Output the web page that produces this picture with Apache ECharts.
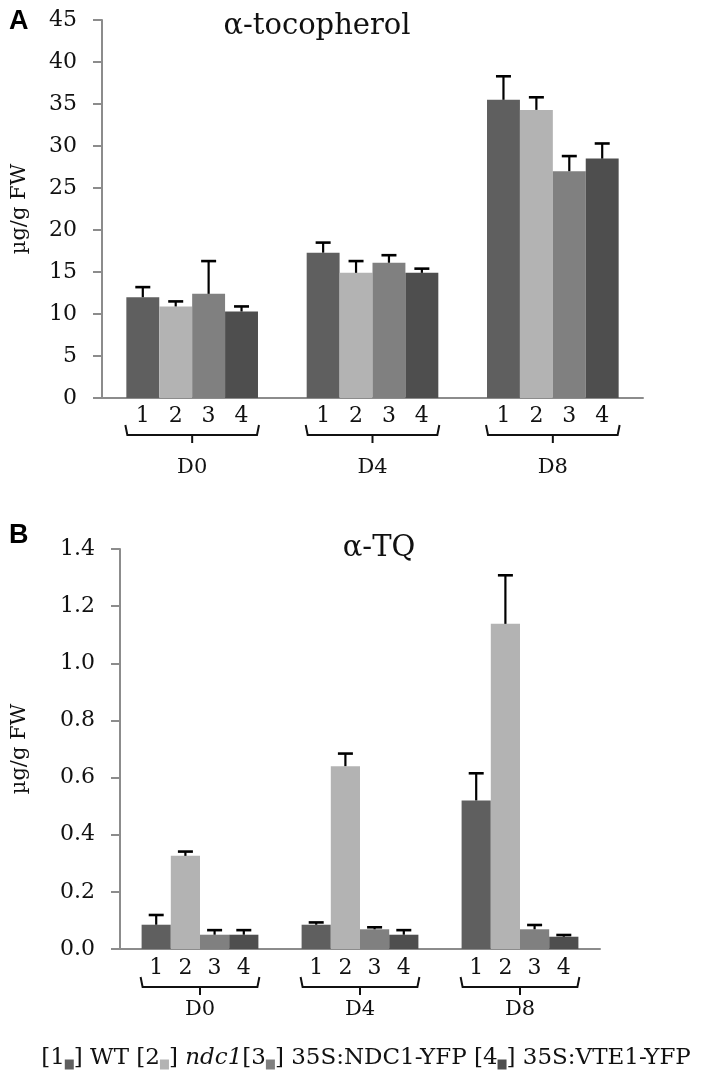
<!DOCTYPE html>
<html>
<head>
<meta charset="utf-8">
<script src="https://cdn.jsdelivr.net/npm/echarts@6/dist/echarts.min.js"></script>
<style>
html,body{margin:0;padding:0;background:#fff;}
#chart{width:709px;height:1083px;}
</style>
</head>
<body>
<div id="chart"></div>
<script>
// ---- data ----
const groups = ['D0', 'D4', 'D8'];
const lineNums = ['1', '2', '3', '4'];
const lineNames = ['WT', 'ndc1', '35S:NDC1-YFP', '35S:VTE1-YFP'];
const barColors = ['#5f5f5f', '#b3b3b3', '#808080', '#4e4e4e'];

const tocoTitle = 'α-tocopherol';
const tqTitle = 'α-TQ';
const yName = 'µg/g FW';

// alpha-tocopherol means per line (D0, D4, D8)
const tocoWT   = [12.0, 17.3, 35.5];
const tocoNdc1 = [10.9, 14.9, 34.3];
const tocoNDC1 = [12.4, 16.1, 27.0];
const tocoVTE1 = [10.3, 14.9, 28.5];
// error (SD) per line
const tocoWTErr   = [1.2, 1.2, 2.8];
const tocoNdc1Err = [0.6, 1.4, 1.5];
const tocoNDC1Err = [3.9, 0.9, 1.8];
const tocoVTE1Err = [0.6, 0.5, 1.8];

// alpha-TQ means per line
const tqWT   = [0.085, 0.085, 0.52];
const tqNdc1 = [0.326, 0.64, 1.138];
const tqNDC1 = [0.05, 0.069, 0.069];
const tqVTE1 = [0.05, 0.05, 0.043];
const tqWTErr   = [0.034, 0.008, 0.095];
const tqNdc1Err = [0.015, 0.044, 0.17];
const tqNDC1Err = [0.016, 0.007, 0.015];
const tqVTE1Err = [0.016, 0.016, 0.006];

const tocoTicks = {min: 0, max: 45, interval: 5};
const tqTicks = {min: 0, max: 1.4, interval: 0.2};

// ---- build ----
const SERIF = '"DejaVu Serif", "Liberation Serif", serif';
const GAP = 0.27;
const tocoMeans = [tocoWT, tocoNdc1, tocoNDC1, tocoVTE1];
const tocoErrs = [tocoWTErr, tocoNdc1Err, tocoNDC1Err, tocoVTE1Err];
const tqMeans = [tqWT, tqNdc1, tqNDC1, tqVTE1];
const tqErrs = [tqWTErr, tqNdc1Err, tqNDC1Err, tqVTE1Err];

const chart = echarts.init(document.getElementById('chart'), null, {renderer: 'canvas'});

function barSeries(means, gi) {
  return means.map((m, i) => ({
    type: 'bar', name: lineNames[i], xAxisIndex: gi, yAxisIndex: gi,
    data: m, barGap: '0%', barCategoryGap: (GAP * 100) + '%',
    itemStyle: {color: barColors[i]}, silent: true, z: 2
  }));
}

function errSeries(means, errs, gi) {
  const data = [];
  means.forEach((m, li) => m.forEach((v, ci) => data.push([ci, v, errs[li][ci], li])));
  return {
    type: 'custom', xAxisIndex: gi, yAxisIndex: gi, data: data, z: 5, silent: true,
    encode: {x: 0, y: 1},
    renderItem: function (params, api) {
      const ci = api.value(0), v = api.value(1), e = api.value(2), li = api.value(3);
      const c = api.coord([ci, v]);
      const cw = api.size([1, 0])[0];
      const bw = cw * (1 - GAP) / 4;
      const x = c[0] - 2 * bw + (li + 0.5) * bw;
      const yTop = api.coord([ci, v + e])[1];
      const half = 7.5;
      return {
        type: 'group', children: [
          {type: 'line', shape: {x1: x, y1: c[1], x2: x, y2: yTop}, style: {stroke: '#000', lineWidth: 2.2}},
          {type: 'line', shape: {x1: x - half, y1: yTop, x2: x + half, y2: yTop}, style: {stroke: '#000', lineWidth: 2.6}}
        ]
      };
    }
  };
}

function annotSeries(gi, subDy, dDy) {
  return {
    type: 'custom', xAxisIndex: gi, yAxisIndex: gi, data: groups.map((g, i) => [i, 0]), z: 5, silent: true,
    clip: false,
    renderItem: function (params, api) {
      const ci = api.value(0);
      const c = api.coord([ci, 0]);
      const cw = api.size([1, 0])[0];
      const bw = cw * (1 - GAP) / 4;
      const left = c[0] - 2 * bw - 1, right = c[0] + 2 * bw + 1;
      const y0 = c[1];
      const children = lineNums.map((n, li) => ({
        type: 'text',
        style: {text: n, x: c[0] - 2 * bw + (li + 0.5) * bw, y: y0 + subDy, align: 'center', verticalAlign: 'middle',
          font: '22px ' + SERIF, fill: '#111'}
      }));
      const yb = y0 + subDy + 19;
      children.push({
        type: 'polyline',
        shape: {points: [[left, yb - 10], [left + 2, yb], [right - 2, yb], [right, yb - 10]]},
        style: {stroke: '#111', lineWidth: 2, fill: null}
      });
      children.push({
        type: 'line', shape: {x1: c[0], y1: yb, x2: c[0], y2: yb + 8},
        style: {stroke: '#111', lineWidth: 2}
      });
      children.push({
        type: 'text',
        style: {text: groups[ci], x: c[0], y: y0 + dDy, align: 'center', verticalAlign: 'middle',
          font: '21px ' + SERIF, fill: '#111'}
      });
      return {type: 'group', children: children};
    }
  };
}

function yAxis(gi, ticks, fmt, nameGap) {
  return {
    type: 'value', gridIndex: gi, min: ticks.min, max: ticks.max, interval: ticks.interval,
    name: yName, nameLocation: 'middle', nameGap: nameGap, nameRotate: 90,
    nameTextStyle: {fontFamily: SERIF, fontSize: 21, color: '#111'},
    axisLine: {show: true, lineStyle: {color: '#8c8c8c', width: 2}},
    axisTick: {show: true, inside: false, length: 9, lineStyle: {color: '#8c8c8c', width: 2}},
    axisLabel: {fontFamily: SERIF, fontSize: 22, color: '#111', margin: 25, formatter: fmt},
    splitLine: {show: false}
  };
}

function xAxis(gi) {
  return {
    type: 'category', gridIndex: gi, data: groups,
    axisLine: {show: true, lineStyle: {color: '#8c8c8c', width: 2}},
    axisTick: {show: false}, axisLabel: {show: false}
  };
}

const option = {
  backgroundColor: '#fff',
  animation: false,
  grid: [
    {left: 102, top: 20, width: 541, height: 378},
    {left: 120, top: 549, width: 480, height: 400}
  ],
  xAxis: [xAxis(0), xAxis(1)],
  yAxis: [
    yAxis(0, tocoTicks, v => String(v), 72),
    yAxis(1, tqTicks, v => v.toFixed(1), 90)
  ],
  series: [].concat(
    barSeries(tocoMeans, 0), barSeries(tqMeans, 1),
    [errSeries(tocoMeans, tocoErrs, 0), errSeries(tqMeans, tqErrs, 1),
     annotSeries(0, 18, 70), annotSeries(1, 19, 61)]
  ),
  graphic: [
    {type: 'text', left: 9, top: 8, style: {text: 'A', font: 'bold 27px "Liberation Sans", Arial, sans-serif', fill: '#000'}},
    {type: 'text', left: 9, top: 522, style: {text: 'B', font: 'bold 27px "Liberation Sans", Arial, sans-serif', fill: '#000'}},
    {type: 'text', x: 317, y: 26, style: {text: tocoTitle, font: '29px ' + SERIF, fill: '#111', align: 'center', verticalAlign: 'middle'}},
    {type: 'text', x: 379, y: 548, style: {text: tqTitle, font: '29px ' + SERIF, fill: '#111', align: 'center', verticalAlign: 'middle'}},
    {
      type: 'text', x: 366, y: 1058,
      style: {
        text: lineNums.map((n, i) => '[' + n + '{s' + i + '| }]' + (i === 1 ? ' {it|' + lineNames[i] + '}' : ' ' + lineNames[i] + ' ')).join('').trim(),
        font: '23px ' + SERIF, fill: '#111', align: 'center', verticalAlign: 'middle',
        rich: Object.assign({
          it: {fontStyle: 'italic', fontFamily: SERIF, fontSize: 23}
        }, ...barColors.map((c, i) => ({['s' + i]: {width: 9, height: 10, backgroundColor: c, fontSize: 8, verticalAlign: 'bottom'}})))
      }
    }
  ]
};
chart.setOption(option);
</script>
</body>
</html>
